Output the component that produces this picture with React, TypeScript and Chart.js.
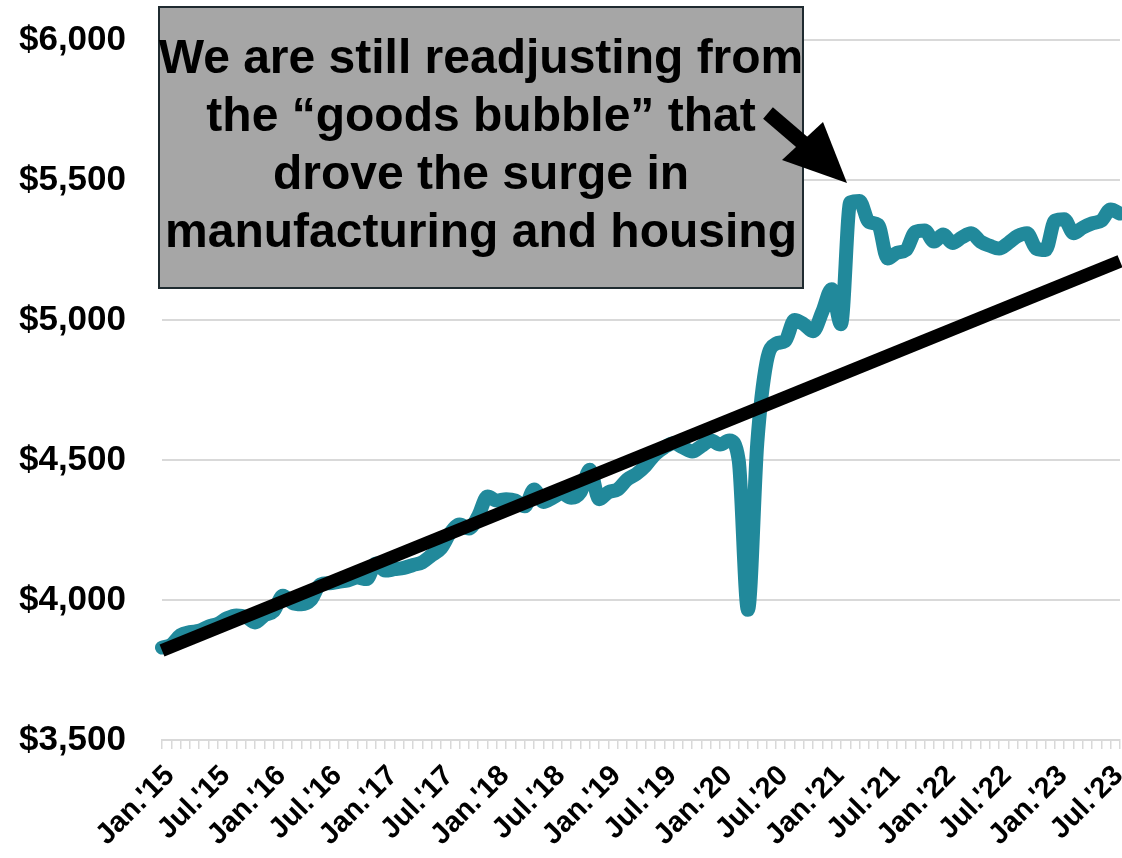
import React, { useEffect, useRef } from "react";
import { Chart, registerables } from "chart.js";

Chart.register(...registerables);

// ---- Data ----
const START_YEAR = 2015;
const MONTH_COUNT = 104; // Jan 2015 .. Aug 2023
const CATEGORIES: string[] = [];
for (let i = 0; i < MONTH_COUNT; i++) {
  const y = START_YEAR + Math.floor(i / 12);
  const m = (i % 12) + 1;
  CATEGORIES.push(`${y}-${m < 10 ? "0" + m : m}`);
}

const SPENDING: number[] = [
  // 2015
  3830, 3840, 3875, 3885, 3890, 3905, 3915, 3935, 3945, 3940, 3920, 3945,
  // 2016
  3960, 4015, 3990, 3985, 4000, 4055, 4060, 4065, 4070, 4080, 4075, 4130,
  // 2017
  4105, 4110, 4115, 4125, 4135, 4160, 4185, 4240, 4270, 4255, 4300, 4370,
  // 2018
  4355, 4360, 4355, 4335, 4395, 4350, 4365, 4380, 4365, 4385, 4465, 4360,
  // 2019
  4385, 4395, 4430, 4450, 4480, 4520, 4545, 4560, 4545, 4530, 4550, 4570,
  // 2020
  4555, 4570, 4500, 3965, 4560, 4850, 4915, 4925, 5000, 4985, 4960, 5030,
  // 2021
  5110, 4985, 5420, 5425, 5350, 5340, 5220, 5240, 5250, 5315, 5320, 5280,
  // 2022
  5305, 5275, 5295, 5310, 5280, 5265, 5255, 5275, 5300, 5310, 5255, 5250,
  // 2023
  5355, 5360, 5310, 5330, 5345, 5355, 5395, 5380,
];

const TREND_START = 3820;
const TREND_END = 5210;

const TICK_LABELS = [
  "Jan.'15", "Jul.'15", "Jan.'16", "Jul.'16", "Jan.'17", "Jul.'17",
  "Jan.'18", "Jul.'18", "Jan.'19", "Jul.'19", "Jan.'20", "Jul.'20",
  "Jan.'21", "Jul.'21", "Jan.'22", "Jul.'22", "Jan.'23", "Jul.'23",
];

const Y_MIN = 3500;
const Y_MAX = 6000;
const Y_STEP = 500;

const ANNOTATION_LINES = [
  "We are still readjusting from",
  "the \u201Cgoods bubble\u201D that",
  "drove the surge in",
  "manufacturing and housing",
];

const FONT_FAMILY = '"Liberation Sans", Arial, Helvetica, sans-serif';

const annotationPlugin = {
  id: "goodsAnnotation",
  afterDraw(chart: any) {
    const ctx = chart.ctx as CanvasRenderingContext2D;
    ctx.save();
    // box
    const bx = 159, by = 7, bw = 644, bh = 281;
    ctx.fillStyle = "#A6A6A6";
    ctx.fillRect(bx, by, bw, bh);
    ctx.strokeStyle = "#1F2B30";
    ctx.lineWidth = 2;
    ctx.strokeRect(bx, by, bw, bh);
    // text
    ctx.fillStyle = "#000000";
    ctx.font = `bold 48px ${FONT_FAMILY}`;
    ctx.textAlign = "center";
    ctx.textBaseline = "alphabetic";
    const cx = bx + bw / 2;
    const baselines = [73, 131, 189, 247];
    ANNOTATION_LINES.forEach((t, i) => ctx.fillText(t, cx, baselines[i]));
    // arrow
    ctx.strokeStyle = "#000000";
    ctx.lineWidth = 15;
    ctx.lineCap = "butt";
    ctx.beginPath();
    ctx.moveTo(768, 113);
    ctx.lineTo(810, 149);
    ctx.stroke();
    ctx.beginPath();
    ctx.moveTo(782, 160);
    ctx.lineTo(823, 122);
    ctx.lineTo(847, 183);
    ctx.closePath();
    ctx.fill();
    ctx.restore();
  },
};

export default function App() {
  const canvasRef = useRef<HTMLCanvasElement | null>(null);

  useEffect(() => {
    if (!canvasRef.current) return;
    const chart = new Chart(canvasRef.current, {
      type: "line",
      data: {
        labels: CATEGORIES,
        datasets: [
          {
            label: "Trend",
            data: [
              { x: CATEGORIES[0], y: TREND_START },
              { x: CATEGORIES[CATEGORIES.length - 1], y: TREND_END },
            ] as any,
            borderColor: "#000000",
            borderWidth: 13,
            pointRadius: 0,
            tension: 0,
            borderCapStyle: "butt",
          },
          {
            label: "Spending",
            data: SPENDING,
            borderColor: "#21899B",
            borderWidth: 14,
            pointRadius: 0,
            cubicInterpolationMode: "monotone",
            borderJoinStyle: "round",
            borderCapStyle: "round",
          },
        ],
      },
      options: {
        responsive: false,
        animation: false,
        events: [],
        layout: { padding: { top: 40, right: 2, bottom: 0, left: 0 } },
        plugins: {
          legend: { display: false },
          tooltip: { enabled: false },
          title: { display: false },
        },
        scales: {
          x: {
            type: "category",
            offset: false,
            grid: {
              display: true,
              drawOnChartArea: false,
              drawTicks: true,
              tickLength: 9,
              color: "#D9D9D9",
              lineWidth: 1.5,
            },
            border: { display: true, color: "#D9D9D9", width: 2 },
            ticks: {
              autoSkip: false,
              maxRotation: 45,
              minRotation: 45,
              padding: 10,
              labelOffset: 8,
              color: "#000000",
              font: { family: FONT_FAMILY, size: 29, weight: "bold" },
              callback: (_v: any, index: number) =>
                index % 6 === 0 ? TICK_LABELS[index / 6] : "",
            },
            afterFit: (scale: any) => {
              scale.height = 118;
              scale.paddingRight = 0;
              scale.paddingLeft = 0;
            },
          },
          y: {
            min: Y_MIN,
            max: Y_MAX,
            ticks: {
              stepSize: Y_STEP,
              padding: 36,
              color: "#000000",
              font: { family: FONT_FAMILY, size: 35, weight: "bold" },
              callback: (v: any) => "$" + Number(v).toLocaleString("en-US"),
            },
            grid: {
              color: "#D9D9D9",
              lineWidth: 2,
              drawTicks: false,
            },
            border: { display: false },
            afterFit: (scale: any) => {
              scale.width = 162;
              scale.paddingTop = 0;
              scale.paddingBottom = 0;
            },
          },
        },
      },
      plugins: [annotationPlugin],
    });
    return () => chart.destroy();
  }, []);

  return (
    <div style={{ position: "absolute", left: 0, top: 0, width: 1122, height: 858, background: "#ffffff" }}>
      <canvas ref={canvasRef} width={1122} height={858} style={{ display: "block" }} />
    </div>
  );
}
